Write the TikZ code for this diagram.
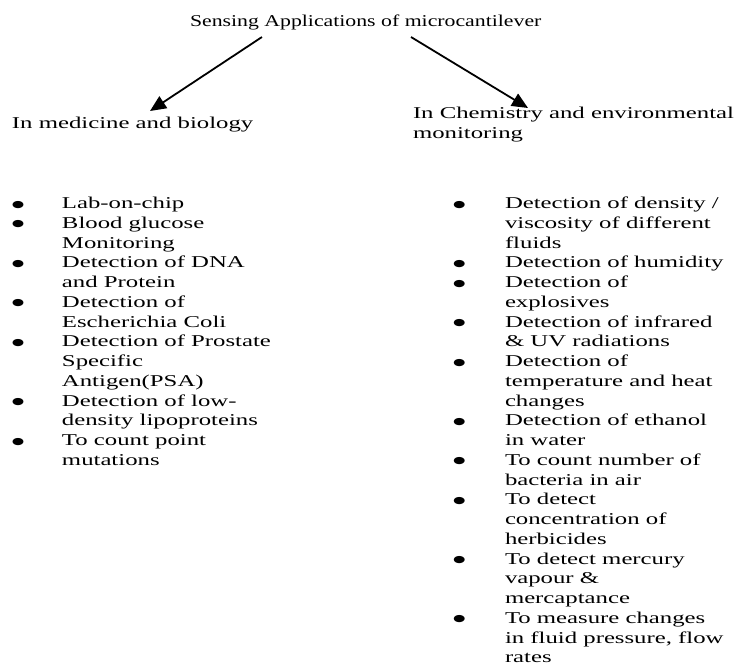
\documentclass[tikz,border=0pt]{standalone}
\usepackage{fontspec}
\usetikzlibrary{arrows.meta,calc}
\newfontfamily\bodyfont[FakeStretch=1.5]{Liberation Serif}
\newfontfamily\titlefont[FakeStretch=1.32]{Liberation Serif}
\newfontfamily\bulfont[FakeStretch=1.5]{DejaVu Sans}
\newcommand\bul{\raisebox{1.4pt}{\bulfont\fontsize{9.5}{11}\selectfont ●}}
\begin{document}
\begin{tikzpicture}[x=1pt,y=-1pt,
  txt/.style={inner sep=0pt,outer sep=0pt,anchor=base west,align=left},
  body/.style={txt,font=\bodyfont\fontsize{16.5}{19.75}\selectfont},
  ttl/.style={txt,font=\titlefont\fontsize{16.5}{19.75}\selectfont},
  arr/.style={line width=1.8pt,-{Triangle[length=16pt,width=14pt]}}]
\useasboundingbox (0,0) rectangle (742,665);
\fill[white] (0,0) rectangle (742,665);
\node[ttl] (title) at (190,26) {Sensing Applications of microcantilever};
\node[body] (med) at (12,128) {In medicine and biology};
\node[body] (chem) at (413,138) {In Chemistry and environmental\\monitoring};
\node[body] (medlist) at (12,208.5) {\begin{tabular}[t]{@{}p{50pt}@{}l@{}}
\bul & Lab-on-chip\\
\bul & Blood glucose\\
 & Monitoring\\
\bul & Detection of DNA\\
 & and Protein\\
\bul & Detection of\\
 & Escherichia Coli\\
\bul & Detection of Prostate\\
 & Specific\\
 & Antigen(PSA)\\
\bul & Detection of low-\\
 & density lipoproteins\\
\bul & To count point\\
 & mutations
\end{tabular}};
\node[body] (chemlist) at (453,208.5) {\begin{tabular}[t]{@{}p{52pt}@{}l@{}}
\bul & Detection of density /\\
 & viscosity of different\\
 & fluids\\
\bul & Detection of humidity\\
\bul & Detection of\\
 & explosives\\
\bul & Detection of infrared\\
 & \& UV radiations\\
\bul & Detection of\\
 & temperature and heat\\
 & changes\\
\bul & Detection of ethanol\\
 & in water\\
\bul & To count number of\\
 & bacteria in air\\
\bul & To detect\\
 & concentration of\\
 & herbicides\\
\bul & To detect mercury\\
 & vapour \&\\
 & mercaptance\\
\bul & To measure changes\\
 & in fluid pressure, flow\\
 & rates
\end{tabular}};
\draw[arr] ($(title.base west)+(72,11)$) -- ($(med.base west)+(138,-17)$);
\draw[arr] ($(title.base west)+(221,11)$) -- ($(chem.base west)+(115,-30)$);
\end{tikzpicture}
\end{document}
